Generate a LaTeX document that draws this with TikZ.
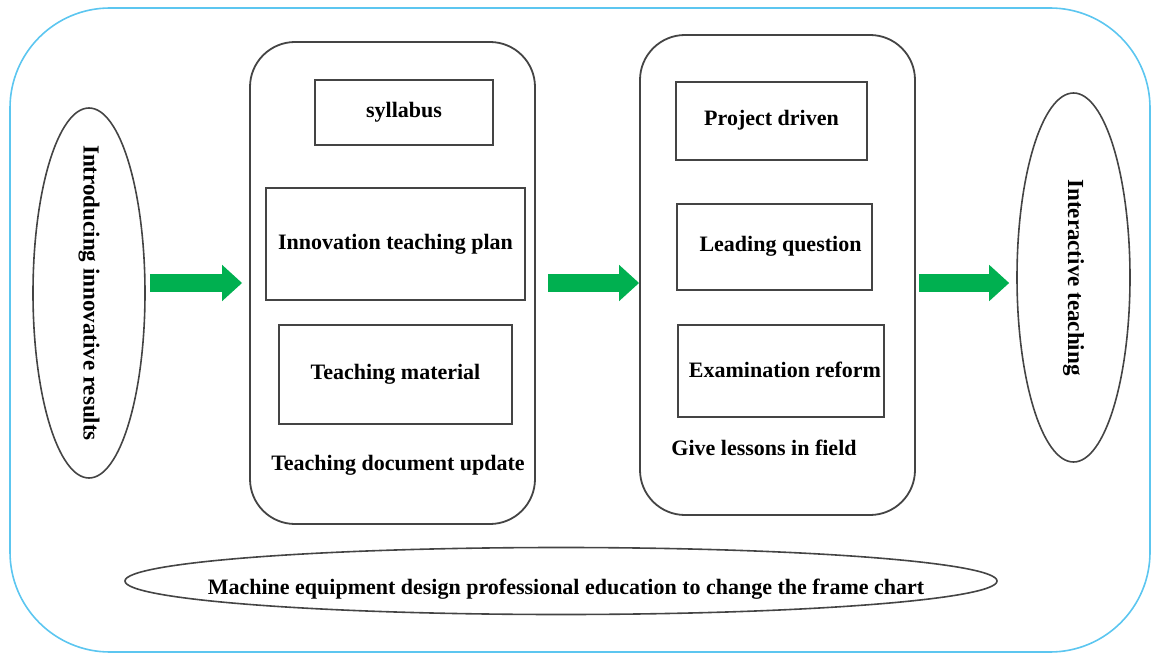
\documentclass[tikz,border=0pt]{standalone}
\usepackage{fontspec}
\setmainfont{Liberation Serif}
\usetikzlibrary{shapes.geometric,arrows.meta}
\definecolor{frameblue}{HTML}{5CC6F0}
\definecolor{arrowgreen}{HTML}{00B050}
\definecolor{linegray}{HTML}{444444}
\tikzset{
  outerframe/.style={draw=frameblue, line width=1.6pt, rounded corners=100pt},
  column/.style={draw=linegray, line width=1.8pt, rounded corners=45pt, inner sep=0pt},
  itembox/.style={draw=linegray, line width=1.8pt, inner sep=0pt, font=\bfseries\fontsize{22}{24}\selectfont},
  oval/.style={ellipse, draw=linegray, line width=1.6pt, inner sep=0pt},
  vtext/.style={font=\bfseries\fontsize{23}{25}\selectfont, rotate=-90},
  plain/.style={font=\bfseries\fontsize{22}{24}\selectfont, inner sep=0pt},
  bigarrow/.style={draw=arrowgreen, line width=18pt, -{Triangle[length=20pt,width=35pt]}},
}
\begin{document}
\begin{tikzpicture}[x=1pt,y=-1pt]
\useasboundingbox (0,0) rectangle (1151,655);
\draw[outerframe] (10,8) rectangle (1150,652);

% left ellipse
\node[oval, minimum width=112pt, minimum height=370pt] (intro) at (89,293) {};
\node[vtext] at (intro.center) {Introducing innovative results};

% column 1
\node[column, minimum width=285pt, minimum height=482pt] (col1) at (392.5,283) {};
\node[itembox, minimum width=178pt, minimum height=65pt] (syl) at (404,112.5) {\raisebox{3pt}{syllabus}};
\node[itembox, minimum width=259pt, minimum height=112pt] (plan) at (395.5,244) {\raisebox{4pt}{Innovation teaching plan}};
\node[itembox, minimum width=233pt, minimum height=99pt] (mat) at (395.5,374.5) {\raisebox{4pt}{Teaching material}};
\node[plain] (upd) at (398,465) {Teaching document update};

% column 2
\node[column, minimum width=275pt, minimum height=480pt] (col2) at (777.5,275) {};
\node[itembox, minimum width=191pt, minimum height=78pt] (proj) at (771.5,121) {\raisebox{6pt}{Project driven}};
\node[itembox, minimum width=195pt, minimum height=86pt] (lead) at (774.5,247) {\raisebox{6pt}{\hspace{12pt}Leading question}};
\node[itembox, minimum width=206pt, minimum height=92pt] (exam) at (781,371) {\raisebox{3pt}{\hspace{8pt}Examination reform}};
\node[plain] (field) at (764,448) {Give lessons in field};

% right ellipse
\node[oval, minimum width=113pt, minimum height=369pt] (inter) at (1073.5,277.5) {};
\node[vtext] at (inter.center) {Interactive teaching};

% bottom ellipse
\node[oval, minimum width=872pt, minimum height=67pt] (frame) at (561,581) {};
\node[plain] at (566,589) {Machine equipment design professional education to change the frame chart};

% arrows
\draw[bigarrow, shorten <=4pt, shorten >=7pt] (intro.east |- col1.west) -- (col1.west);
\draw[bigarrow, shorten <=12pt] (col1.east) -- (col2.west |- col1.east);
\draw[bigarrow, shorten <=3pt, shorten >=7pt] (col2.east |- col1.east) -- (inter.west |- col1.east);
\end{tikzpicture}
\end{document}
